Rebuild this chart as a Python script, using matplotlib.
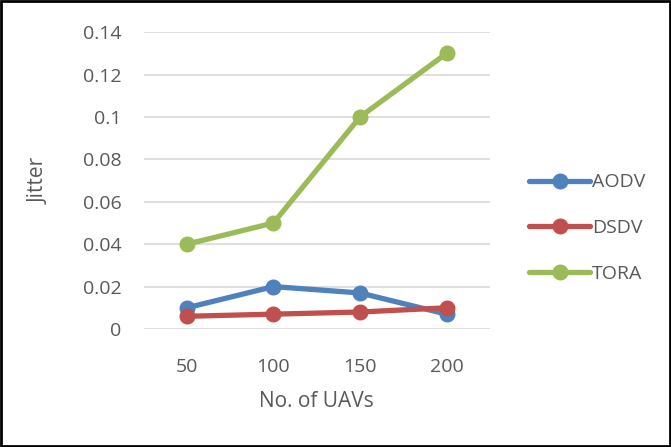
import matplotlib.pyplot as plt
from matplotlib.patches import Rectangle

# Jitter vs. number of UAVs for three routing protocols
uavs = ['50', '100', '150', '200']
aodv = [0.010, 0.020, 0.017, 0.007]
dsdv = [0.006, 0.007, 0.008, 0.010]
tora = [0.040, 0.050, 0.100, 0.130]
yticks = [0, 0.02, 0.04, 0.06, 0.08, 0.1, 0.12, 0.14]
ytick_labels = ['0', '0.02', '0.04', '0.06', '0.08', '0.1', '0.12', '0.14']

plt.rcParams['font.family'] = ['Open Sans', 'DejaVu Sans']
text_color = '#595959'

fig = plt.figure(figsize=(6.71, 4.47), dpi=100)
ax = fig.add_axes([0.214, 0.264, 0.516, 0.664])

x = range(len(uavs))
series = [('AODV', aodv, '#4F81BD'), ('DSDV', dsdv, '#C0504D'), ('TORA', tora, '#9BBB59')]
for name, vals, color in series:
    ax.plot(x, vals, color=color, lw=3.8, marker='o', ms=10.5, label=name,
            solid_capstyle='round')

ax.set_xlim(-0.5, len(uavs) - 0.5)
ax.set_ylim(0, 0.14)
ax.set_xticks(list(x))
ax.set_xticklabels(uavs)
ax.set_yticks(yticks)
ax.set_yticklabels(ytick_labels)
ax.tick_params(length=0, labelsize=14, colors=text_color)
ax.tick_params(axis='x', pad=21)
ax.tick_params(axis='y', pad=16)
ax.grid(axis='y', color='#d9d9d9', lw=1.2)
ax.set_axisbelow(True)
for s in ax.spines.values():
    s.set_visible(False)

ax.set_xlabel('No. of UAVs', fontsize=15, color=text_color, labelpad=11)
ax.set_ylabel('Jitter', fontsize=15, color=text_color, labelpad=24)

fig.legend(loc='center left', bbox_to_anchor=(0.763, 0.49), frameon=False,
           fontsize=14, labelcolor=text_color, handlelength=3.1,
           handletextpad=0.1, labelspacing=1.42)

# outer border around the chart
fig.patches.append(Rectangle((0.002, 0.003), 0.996, 0.994, transform=fig.transFigure,
                             fill=False, edgecolor='black', lw=2))

fig.savefig('out.png', dpi=100)
